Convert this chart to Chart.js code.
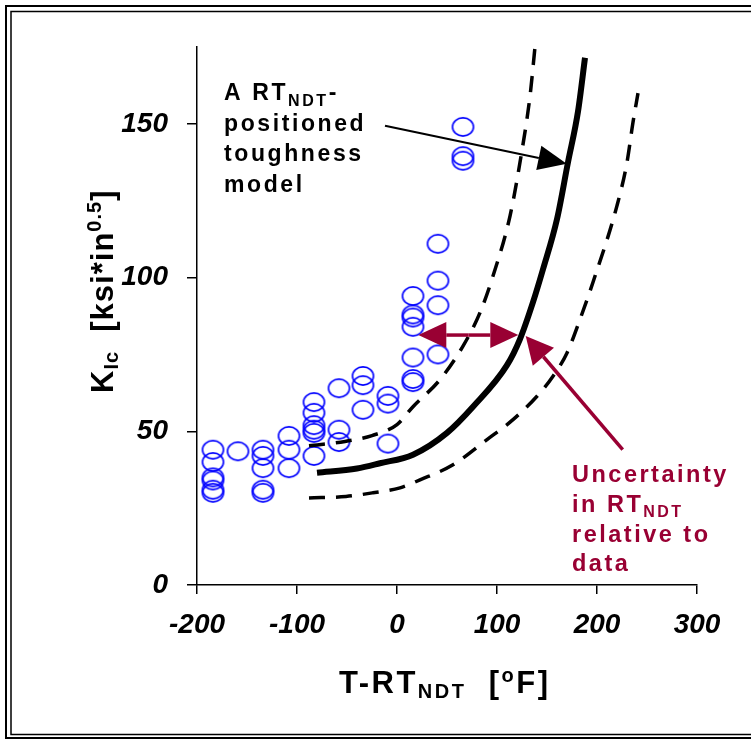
<!DOCTYPE html>
<html>
<head>
<meta charset="utf-8">
<script src="https://cdn.jsdelivr.net/npm/chart.js@4.4.0/dist/chart.umd.min.js"></script>
<style>
  html, body { margin: 0; padding: 0; background: #fff; }
  canvas { display: block; }
</style>
</head>
<body>
<canvas id="kicChart" width="751" height="740"></canvas>
<script>
// measured fracture toughness data (T-RTndt in degF, KIc in ksi*in^0.5)
const dataTemp = [
  -184, -184, -184, -184, -184, -184,
  -159,
  -134, -134, -134, -134, -134,
  -108, -108, -108,
  -83, -83, -83, -83, -83, -83,
  -58, -58, -58,
  -34, -34, -34,
  -9, -9, -9,
  16, 16, 16, 16, 16, 16, 16,
  41, 41, 41, 41,
  66, 66, 66
];
const dataKic = [
  44, 40, 35, 34, 31, 30,
  43.5,
  44, 42, 38, 31, 30,
  48.5, 44, 38,
  59.5, 56, 52, 50.5, 49.5, 42,
  64, 50.5, 46.5,
  68, 65, 57,
  61.5, 59, 46,
  94, 88, 87, 84, 74, 67, 66,
  111, 99, 91, 75,
  149, 139.5, 138
];

// RTndt positioned toughness model (solid)
const modelTemp = [-80, -40, -17, 16, 50, 76, 110, 123, 136, 146, 160, 171, 181, 188];
const modelKic = [36.5, 37.9, 39.6, 42.4, 49.5, 58, 71.5, 80, 92, 102.7, 119, 137.5, 154, 171.5];

// uncertainty bounds (dashed)
const lowerTemp = [-88, -52, -25, 0, 16, 43, 66, 83, 96, 113, 123, 133, 138];
const lowerKic = [45.3, 46.7, 48.6, 52.2, 58, 66.8, 77.7, 88.6, 100.5, 120, 137.5, 159, 175];
const upperTemp = [-88, -51, -24, 3, 23, 56, 90, 116, 140, 156, 170, 183, 196, 220, 230, 236, 241];
const upperKic = [28.3, 28.8, 30, 31.6, 34.2, 39.1, 47.3, 53.8, 61.4, 67.9, 75.5, 86.4, 98.5, 123.4, 137.5, 150.5, 160];

const xTicks = [-200, -100, 0, 100, 200, 300];
const yTicks = [0, 50, 100, 150];

const maroon = '#990033';
const fontFam = '"Liberation Sans", Arial, sans-serif';

function toPoints(xs, ys) {
  return xs.map((x, i) => ({ x: x, y: ys[i] }));
}

// hollow blue ellipse used as the marker
function makeEllipse() {
  const c = document.createElement('canvas');
  c.width = 25;
  c.height = 22;
  const g = c.getContext('2d');
  g.strokeStyle = '#0000ff';
  g.lineWidth = 1.6;
  g.beginPath();
  g.ellipse(12.5, 11, 10.5, 9.1, 0, 0, Math.PI * 2);
  g.stroke();
  return c;
}

// text made of pieces: normal, subscript, superscript
function drawRich(ctx, x, y, parts, spacing) {
  ctx.letterSpacing = spacing + 'px';
  ctx.textBaseline = 'alphabetic';
  ctx.textAlign = 'left';
  let cx = x;
  parts.forEach(p => {
    ctx.font = 'bold ' + p.size + 'px ' + fontFam;
    ctx.fillText(p.t, cx, y + (p.dy || 0));
    cx += ctx.measureText(p.t).width;
  });
  ctx.letterSpacing = '0px';
}

function arrow(ctx, x1, y1, x2, y2, color, width, headLen, headHalf) {
  const ang = Math.atan2(y2 - y1, x2 - x1);
  const bx = x2 - headLen * Math.cos(ang);
  const by = y2 - headLen * Math.sin(ang);
  ctx.strokeStyle = color;
  ctx.lineWidth = width;
  ctx.beginPath();
  ctx.moveTo(x1, y1);
  ctx.lineTo(bx, by);
  ctx.stroke();
  ctx.fillStyle = color;
  ctx.beginPath();
  ctx.moveTo(x2, y2);
  ctx.lineTo(bx + headHalf * Math.sin(ang), by - headHalf * Math.cos(ang));
  ctx.lineTo(bx - headHalf * Math.sin(ang), by + headHalf * Math.cos(ang));
  ctx.closePath();
  ctx.fill();
}

const framePlugin = {
  id: 'frame',
  beforeDraw(chart) {
    const ctx = chart.ctx;
    ctx.save();
    ctx.fillStyle = '#fff';
    ctx.fillRect(0, 0, chart.width, chart.height);
    ctx.strokeStyle = '#000';
    ctx.lineWidth = 2;
    ctx.beginPath();
    ctx.moveTo(760, 6);
    ctx.lineTo(6, 6);
    ctx.lineTo(6, 738);
    ctx.lineTo(760, 738);
    ctx.stroke();
    ctx.lineWidth = 1.5;
    ctx.beginPath();
    ctx.moveTo(760, 11.5);
    ctx.lineTo(11, 11.5);
    ctx.lineTo(11, 734.5);
    ctx.lineTo(760, 734.5);
    ctx.stroke();
    ctx.restore();
  }
};

const notesPlugin = {
  id: 'notes',
  afterDraw(chart) {
    const ctx = chart.ctx;
    const sx = chart.scales.x, sy = chart.scales.y;
    const px = v => sx.getPixelForValue(v);
    const py = v => sy.getPixelForValue(v);
    ctx.save();

    // axis titles
    ctx.fillStyle = '#000';
    drawRich(ctx, 339, 693, [
      { t: 'T-RT', size: 31 },
      { t: 'NDT', size: 20, dy: 5 },
      { t: '  [', size: 31 },
      { t: 'o', size: 20, dy: -11 },
      { t: 'F]', size: 31 }
    ], 2.5);

    ctx.save();
    ctx.translate(113, 393);
    ctx.rotate(-Math.PI / 2);
    drawRich(ctx, 0, 0, [
      { t: 'K', size: 31 },
      { t: 'Ic', size: 20, dy: 5 },
      { t: '  [ksi*in', size: 31 },
      { t: '0.5', size: 20, dy: -12 },
      { t: ']', size: 31 }
    ], 1);
    ctx.restore();

    // model label
    ctx.fillStyle = '#000';
    drawRich(ctx, 224, 100, [
      { t: 'A RT', size: 23 },
      { t: 'NDT', size: 16, dy: 6 },
      { t: '-', size: 23 }
    ], 2.6);
    drawRich(ctx, 224, 130.5, [{ t: 'positioned', size: 23 }], 2.6);
    drawRich(ctx, 224, 161, [{ t: 'toughness', size: 23 }], 2.6);
    drawRich(ctx, 224, 191.5, [{ t: 'model', size: 23 }], 2.6);
    arrow(ctx, px(-12), py(149.4), px(169.7), py(137), '#000', 2.2, 28.5, 12.4);

    // uncertainty label and arrows
    ctx.fillStyle = maroon;
    drawRich(ctx, 572, 481.5, [{ t: 'Uncertainty', size: 23.5 }], 2.5);
    drawRich(ctx, 572, 511.5, [
      { t: 'in RT', size: 23.5 },
      { t: 'NDT', size: 16, dy: 5 }
    ], 2.5);
    drawRich(ctx, 572, 541.5, [{ t: 'relative to', size: 23.5 }], 2.5);
    drawRich(ctx, 572, 571, [{ t: 'data', size: 23.5 }], 2.5);

    const ay = py(81.3);
    const ax1 = px(21.3), ax2 = px(121.3);
    const mid = (ax1 + ax2) / 2;
    arrow(ctx, mid, ay, ax1, ay, maroon, 3.5, 28, 13);
    arrow(ctx, mid, ay, ax2, ay, maroon, 3.5, 28, 13);
    arrow(ctx, px(225.7), py(44), px(128.7), py(81), maroon, 3.5, 27.3, 13.9);

    ctx.restore();
  }
};

const tickFont = { family: fontFam, size: 28, weight: 'bold', style: 'italic' };

new Chart(document.getElementById('kicChart'), {
  type: 'scatter',
  data: {
    datasets: [
      {
        label: 'data',
        data: toPoints(dataTemp, dataKic),
        pointStyle: makeEllipse(),
        pointRadius: 10,
        showLine: false,
        order: 3
      },
      {
        label: 'model',
        data: toPoints(modelTemp, modelKic),
        showLine: true,
        borderColor: '#000',
        borderWidth: 6,
        pointRadius: 0,
        cubicInterpolationMode: 'monotone',
        order: 1
      },
      {
        label: 'lower',
        data: toPoints(lowerTemp, lowerKic),
        showLine: true,
        borderColor: '#000',
        borderWidth: 3.5,
        borderDash: [16, 11],
        pointRadius: 0,
        cubicInterpolationMode: 'monotone',
        order: 2
      },
      {
        label: 'upper',
        data: toPoints(upperTemp, upperKic),
        showLine: true,
        borderColor: '#000',
        borderWidth: 3.5,
        borderDash: [16, 11],
        pointRadius: 0,
        cubicInterpolationMode: 'monotone',
        order: 2
      }
    ]
  },
  options: {
    responsive: false,
    animation: false,
    events: [],
    layout: { padding: { top: 47, right: 54, left: 0, bottom: 0 } },
    plugins: {
      legend: { display: false },
      tooltip: { enabled: false }
    },
    scales: {
      x: {
        type: 'linear',
        min: xTicks[0],
        max: xTicks[xTicks.length - 1],
        afterFit: s => { s.height = 155; },
        afterBuildTicks: s => { s.ticks = xTicks.map(v => ({ value: v })); },
        ticks: { font: tickFont, color: '#000', padding: 14 },
        grid: { display: true, drawOnChartArea: false, drawTicks: true, tickLength: 9, color: '#000', lineWidth: 1.5 },
        border: { display: true, color: '#000', width: 1.5 }
      },
      y: {
        type: 'linear',
        min: 0,
        max: 175,
        afterFit: s => { s.width = 197; },
        afterBuildTicks: s => { s.ticks = yTicks.map(v => ({ value: v })); },
        ticks: { font: tickFont, color: '#000', padding: 19 },
        grid: { display: true, drawOnChartArea: false, drawTicks: true, tickLength: 10, color: '#000', lineWidth: 1.5 },
        border: { display: true, color: '#000', width: 1.5 }
      }
    }
  },
  plugins: [framePlugin, notesPlugin]
});
</script>
</body>
</html>
